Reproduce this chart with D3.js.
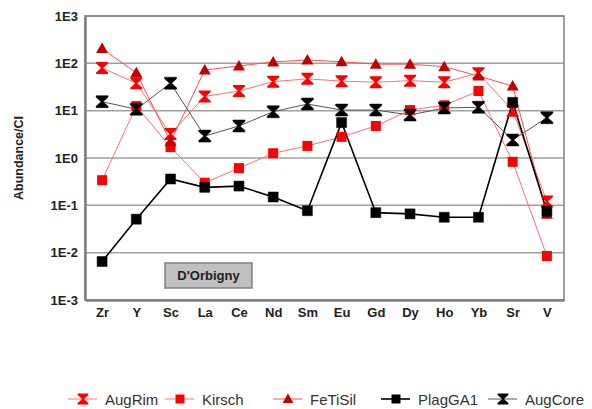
<!DOCTYPE html>
<html>
<head>
<meta charset="utf-8">
<script src="https://cdn.jsdelivr.net/npm/d3@7"></script>
<style>
  body { margin: 0; background: #fff; }
  #chart { width: 592px; height: 409px; }
  text { font-family: "Liberation Sans", Arial, sans-serif; }
</style>
</head>
<body>
<div id="chart"></div>
<script>

// elements along the x axis
const elements = ["Zr", "Y", "Sc", "La", "Ce", "Nd", "Sm", "Eu", "Gd", "Dy", "Ho", "Yb", "Sr", "V"];

// abundance / CI for each sample
const augRim   = [80, 38, 3.2, 20, 26, 41, 47, 42, 40, 43, 40, 62, 10, 0.12];
const kirsch   = [0.34, 12.5, 1.7, 0.3, 0.61, 1.26, 1.8, 2.8, 4.75, 10.3, 13, 26, 0.83, 0.0085];
const feTiSil  = [205, 63, 2.2, 72, 88, 107, 118, 108, 96, 96, 85, 54, 33, 0.065];
const plagGA1  = [0.0065, 0.051, 0.36, 0.24, 0.255, 0.15, 0.077, 5.6, 0.07, 0.066, 0.056, 0.056, 15, 0.075];
const augCore  = [15.5, 10.7, 38, 2.9, 4.75, 9.5, 13.8, 10.3, 10.3, 8.1, 11.4, 11.8, 2.4, 7.1];

const yTicks = [1e-3, 1e-2, 1e-1, 1, 10, 100, 1000];
const yTickLabels = ["1E-3", "1E-2", "1E-1", "1E0", "1E1", "1E2", "1E3"];

const series = [
  { name: "AugRim",  values: augRim,  marker: "bowtie",   fill: "#ff0000", line: "#ff7070", lw: 1 },
  { name: "Kirsch",  values: kirsch,  marker: "square",   fill: "#ff0000", line: "#ff7070", lw: 1 },
  { name: "FeTiSil", values: feTiSil, marker: "triangle", fill: "#c00000", line: "#ff5050", lw: 1 },
  { name: "PlagGA1", values: plagGA1, marker: "square",   fill: "#000000", line: "#000000", lw: 1.6 },
  { name: "AugCore", values: augCore, marker: "bowtie",   fill: "#000000", line: "#555555", lw: 1 }
];

const width = 592, height = 409;
const margin = { top: 16, left: 85, right: 28, bottom: 109 };

const svg = d3.select("#chart")
  .append("svg")
  .attr("width", width)
  .attr("height", height);

const xScale = d3.scalePoint()
  .domain(elements)
  .range([margin.left, width - margin.right])
  .padding(0.5);

const yScale = d3.scaleLog()
  .domain([1e-3, 1e3])
  .range([height - margin.bottom, margin.top]);

// marker shapes
function markerPath(type) {
  if (type === "square") return "M-5,-5H5V5H-5Z";
  if (type === "triangle") return "M0,-6L6,4.5H-6Z";
  // hourglass
  return "M-6,-6H6V-4.5L1,0L6,4.5V6H-6V4.5L-1,0L-6,-4.5Z";
}

// gridlines
svg.append("g")
  .selectAll("line")
  .data(yTicks)
  .join("line")
  .attr("x1", margin.left)
  .attr("x2", width - margin.right)
  .attr("y1", d => yScale(d))
  .attr("y2", d => yScale(d))
  .attr("stroke", "#a0a0a0")
  .attr("stroke-width", 1.5);

// frame
svg.append("rect")
  .attr("x", margin.left)
  .attr("y", margin.top)
  .attr("width", width - margin.left - margin.right)
  .attr("height", height - margin.top - margin.bottom)
  .attr("fill", "none")
  .attr("stroke", "#808080")
  .attr("stroke-width", 1.5);

// axes
const yAxis = svg.append("g")
  .attr("transform", `translate(${margin.left},0)`)
  .call(d3.axisLeft(yScale).tickValues(yTicks).tickSize(0).tickPadding(7)
    .tickFormat((d, i) => yTickLabels[i]));
yAxis.select(".domain").attr("stroke", "#808080").attr("stroke-width", 2.5);

const xAxis = svg.append("g")
  .attr("transform", `translate(0,${height - margin.bottom})`)
  .call(d3.axisBottom(xScale).tickSize(0).tickPadding(8));
xAxis.select(".domain").attr("stroke", "#808080").attr("stroke-width", 2.5);

svg.selectAll(".tick text")
  .attr("font-family", "Liberation Sans, Arial, sans-serif")
  .attr("font-size", 13)
  .attr("font-weight", "bold")
  .attr("fill", "#222");

// axis title
svg.append("text")
  .attr("transform", `translate(23,${(margin.top + height - margin.bottom) / 2}) rotate(-90)`)
  .attr("text-anchor", "middle")
  .attr("font-size", 12.5)
  .attr("font-weight", "bold")
  .attr("fill", "#222")
  .text("Abundance/CI");

// lines and markers
const line = d3.line()
  .x((d, i) => xScale(elements[i]))
  .y(d => yScale(d));

series.forEach(s => {
  svg.append("path")
    .datum(s.values)
    .attr("d", line)
    .attr("fill", "none")
    .attr("stroke", s.line)
    .attr("stroke-width", s.lw);
});

series.forEach(s => {
  svg.append("g")
    .selectAll("path")
    .data(s.values)
    .join("path")
    .attr("transform", (d, i) => `translate(${xScale(elements[i])},${yScale(d)})`)
    .attr("d", markerPath(s.marker))
    .attr("fill", s.fill)
    .attr("stroke", s.fill === "#000000" ? "#000" : "none")
    .attr("stroke-width", 0.5);
});

// sample label box
const box = svg.append("g").attr("transform", "translate(165,263)");
box.append("rect")
  .attr("width", 87)
  .attr("height", 25)
  .attr("fill", "#c0c0c0")
  .attr("stroke", "#808080")
  .attr("stroke-width", 1.5);
box.append("text")
  .attr("x", 43.5)
  .attr("y", 17)
  .attr("text-anchor", "middle")
  .attr("font-size", 13)
  .attr("font-weight", "bold")
  .attr("fill", "#222")
  .text("D'Orbigny");

// legend (x = start of each label)
const legendX = [105, 202, 310, 418, 525];
const legend = svg.append("g");
series.forEach((s, i) => {
  const g = legend.append("g").attr("transform", `translate(${legendX[i]},399)`);
  g.append("line")
    .attr("x1", -37).attr("x2", -8)
    .attr("stroke", s.line)
    .attr("stroke-width", s.lw);
  g.append("path")
    .attr("d", markerPath(s.marker))
    .attr("transform", "translate(-22,0) scale(0.9)")
    .attr("fill", s.fill);
  g.append("text")
    .attr("x", 0)
    .attr("y", 5.5)
    .attr("font-size", 15)
    .attr("fill", "#333")
    .text(s.name);
});

</script>
</body>
</html>
